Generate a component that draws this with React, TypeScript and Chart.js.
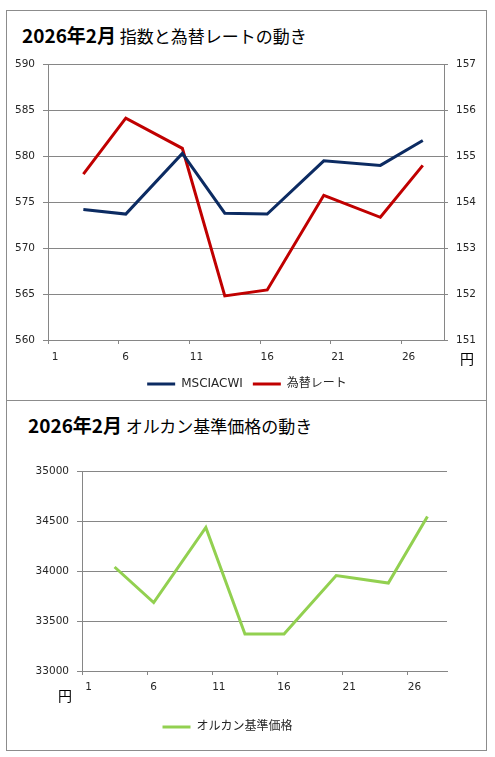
import React, { useEffect, useRef } from "react";
import { Chart, registerables } from "chart.js";

Chart.register(...registerables);

// ---- data ----
const tradeDays = [3, 6, 10, 13, 16, 20, 24, 27];
const msciAcwi = [574.2, 573.7, 580.3, 573.8, 573.7, 579.5, 579.0, 581.7];
const fxRate = [154.61, 155.83, 155.17, 151.96, 152.09, 154.15, 153.67, 154.8];
const orukanNav = [34040, 33685, 34435, 33370, 33370, 33955, 33880, 34545];
const xTickDays = [1, 6, 11, 16, 21, 26];
const xTickLabels = ["1", "6", "11", "16", "21", "26"];
const leftTicksTop = [560, 565, 570, 575, 580, 585, 590];
const rightTicksTop = [151, 152, 153, 154, 155, 156, 157];
const leftTicksBottom = [33000, 33500, 34000, 34500, 35000];
const seriesNames = ["MSCIACWI", "為替レート", "オルカン基準価格"];

const GRID = "#868686";
const TICK_COLOR = "#262626";
const FONT_FAMILY = "'DejaVu Sans', 'Noto Sans CJK JP', sans-serif";

function xAxis(height: number, padding: number, labelOffset: number) {
  return {
    type: "linear" as const,
    min: 0.5,
    max: 28.5,
    afterBuildTicks: (s: any) => {
      s.ticks = xTickDays.map((d) => ({ value: d - 0.5 }));
    },
    afterFit: (s: any) => {
      s.height = height;
    },
    grid: { drawOnChartArea: false, drawTicks: true, tickLength: 4, color: GRID },
    border: { display: true, color: GRID, width: 1 },
    ticks: {
      autoSkip: false,
      maxRotation: 0,
      padding,
      labelOffset,
      color: TICK_COLOR,
      font: { family: FONT_FAMILY, size: 10.5 },
      callback: (_v: any, i: number) => xTickLabels[i],
    },
  };
}

function legendOpts() {
  return {
    display: true,
    position: "bottom" as const,
    labels: {
      usePointStyle: true,
      pointStyle: "line",
      pointStyleWidth: 28,
      boxWidth: 28,
      padding: 10,
      color: "#262626",
      font: { family: FONT_FAMILY, size: 12 },
    },
  };
}

const plainTick = (v: any) => String(v);

function TopChart() {
  const ref = useRef<HTMLCanvasElement>(null);
  useEffect(() => {
    const chart = new Chart(ref.current!, {
      type: "line",
      data: {
        datasets: [
          {
            label: seriesNames[0],
            data: tradeDays.map((d, i) => ({ x: d, y: msciAcwi[i] })),
            borderColor: "#0c2b62",
            backgroundColor: "#0c2b62",
            borderWidth: 3,
            pointRadius: 0,
            yAxisID: "y",
          },
          {
            label: seriesNames[1],
            data: tradeDays.map((d, i) => ({ x: d, y: fxRate[i] })),
            borderColor: "#c00000",
            backgroundColor: "#c00000",
            borderWidth: 3,
            pointRadius: 0,
            yAxisID: "y1",
          },
        ],
      },
      options: {
        animation: false,
        responsive: false,
        maintainAspectRatio: false,
        events: [],
        layout: { padding: { top: 14, left: 0, right: 0, bottom: 0 } },
        plugins: { legend: legendOpts() as any, tooltip: { enabled: false }, title: { display: false } },
        scales: {
          x: xAxis(28, 7, 7) as any,
          y: {
            type: "linear",
            position: "left",
            min: 560,
            max: 590,
            afterBuildTicks: (s: any) => {
              s.ticks = leftTicksTop.map((v) => ({ value: v }));
            },
            afterFit: (s: any) => {
              s.width = 40;
            },
            grid: { color: GRID, lineWidth: 1, drawTicks: true, tickLength: 5 },
            border: { display: true, color: GRID },
            ticks: { padding: 8, color: TICK_COLOR, font: { family: FONT_FAMILY, size: 10.5 }, callback: plainTick },
          },
          y1: {
            type: "linear",
            position: "right",
            min: 151,
            max: 157,
            afterBuildTicks: (s: any) => {
              s.ticks = rightTicksTop.map((v) => ({ value: v }));
            },
            afterFit: (s: any) => {
              s.width = 42;
            },
            grid: { drawOnChartArea: false, color: GRID, drawTicks: true, tickLength: 4 },
            border: { display: true, color: GRID },
            ticks: { padding: 8, color: TICK_COLOR, font: { family: FONT_FAMILY, size: 10.5 }, callback: plainTick },
          },
        },
      },
    });
    return () => chart.destroy();
  }, []);
  return (
    <canvas
      ref={ref}
      width={478}
      height={350}
      style={{ position: "absolute", left: 8, top: 50, width: 478, height: 350 }}
    />
  );
}

function BottomChart() {
  const ref = useRef<HTMLCanvasElement>(null);
  useEffect(() => {
    const chart = new Chart(ref.current!, {
      type: "line",
      data: {
        datasets: [
          {
            label: seriesNames[2],
            data: tradeDays.map((d, i) => ({ x: d, y: orukanNav[i] })),
            borderColor: "#92d050",
            backgroundColor: "#92d050",
            borderWidth: 3,
            pointRadius: 0,
          },
        ],
      },
      options: {
        animation: false,
        responsive: false,
        maintainAspectRatio: false,
        events: [],
        layout: { padding: { top: 21, left: 0, right: 39, bottom: 0 } },
        plugins: { legend: legendOpts() as any, tooltip: { enabled: false }, title: { display: false } },
        scales: {
          x: xAxis(40, 6, 6.5) as any,
          y: {
            type: "linear",
            position: "left",
            min: 33000,
            max: 35000,
            afterBuildTicks: (s: any) => {
              s.ticks = leftTicksBottom.map((v) => ({ value: v }));
            },
            afterFit: (s: any) => {
              s.width = 74;
            },
            grid: { color: GRID, lineWidth: 1, drawTicks: true, tickLength: 5 },
            border: { display: true, color: GRID },
            ticks: { padding: 8, color: TICK_COLOR, font: { family: FONT_FAMILY, size: 10.5 }, callback: plainTick },
          },
        },
      },
    });
    return () => chart.destroy();
  }, []);
  return (
    <canvas
      ref={ref}
      width={478}
      height={293}
      style={{ position: "absolute", left: 8, top: 450, width: 478, height: 293 }}
    />
  );
}

const titleStyle: React.CSSProperties = {
  position: "absolute",
  fontFamily: "'Noto Sans CJK JP', sans-serif",
  lineHeight: "26px",
  whiteSpace: "nowrap",
  color: "#000",
};

const yenStyle: React.CSSProperties = {
  position: "absolute",
  fontFamily: "'Noto Sans CJK JP', sans-serif",
  fontSize: 14,
  lineHeight: "16px",
  color: "#000",
};

export default function App() {
  return (
    <div
      style={{
        position: "fixed",
        left: 0,
        top: 0,
        width: 495,
        height: 757,
        background: "#fff",
        overflow: "hidden",
      }}
    >
      <div
        style={{
          position: "absolute",
          left: 6,
          top: 10,
          width: 479,
          height: 739,
          border: "1px solid #8c8c8c",
        }}
      />
      <div
        style={{
          position: "absolute",
          left: 6,
          top: 400,
          width: 481,
          height: 1,
          background: "#8c8c8c",
        }}
      />
      <div style={{ ...titleStyle, left: 22, top: 22 }}>
        <span style={{ fontWeight: "bold", fontSize: 19 }}>2026年2月</span>
        <span style={{ fontSize: 17 }}> 指数と為替レートの動き</span>
      </div>
      <div style={{ ...titleStyle, left: 28, top: 412 }}>
        <span style={{ fontWeight: "bold", fontSize: 19 }}>2026年2月</span>
        <span style={{ fontSize: 17 }}> オルカン基準価格の動き</span>
      </div>
      <TopChart />
      <BottomChart />
      <div style={{ ...yenStyle, left: 460, top: 350 }}>円</div>
      <div style={{ ...yenStyle, left: 58, top: 687 }}>円</div>
    </div>
  );
}
